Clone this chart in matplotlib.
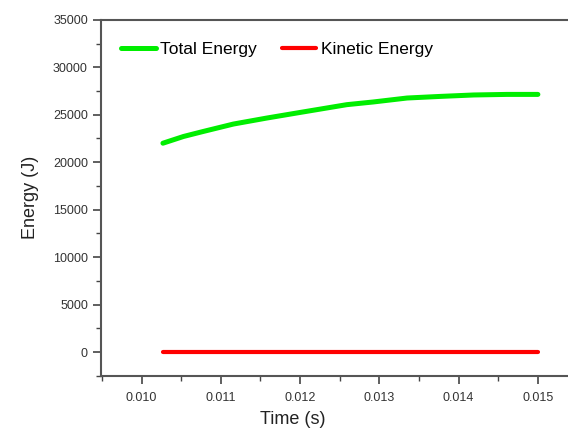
import matplotlib; matplotlib.use("Agg")
import matplotlib.pyplot as plt
from matplotlib.ticker import MultipleLocator, FormatStrFormatter

# data
time_s = [0.01027, 0.01053, 0.01078, 0.01116, 0.01158, 0.01200, 0.01259, 0.01292,
          0.01335, 0.01377, 0.01419, 0.01461, 0.01500]
total_energy = [22000, 22710, 23240, 24020, 24650, 25240, 26060, 26340,
                26760, 26930, 27080, 27140, 27140]
kinetic_time = [0.01027, 0.01500]
kinetic_energy = [0, 0]

plt.rcParams["font.family"] = ["Liberation Sans", "DejaVu Sans"]
fig = plt.figure(figsize=(5.68, 4.3), dpi=100)
ax = fig.add_axes([0.178, 0.126, 0.822, 0.828])
ax.plot(time_s, total_energy, color="#00ee00", lw=3.6, solid_capstyle="round", label="Total Energy")
ax.plot(kinetic_time, kinetic_energy, color="#ff0000", lw=3.0, solid_capstyle="round", label="Kinetic Energy")

ax.set_xlim(0.00949, 0.01538); ax.set_ylim(-2500, 35000)
ax.xaxis.set_major_locator(MultipleLocator(0.001)); ax.xaxis.set_minor_locator(MultipleLocator(0.0005))
ax.yaxis.set_major_locator(MultipleLocator(5000)); ax.yaxis.set_minor_locator(MultipleLocator(2500))
ax.xaxis.set_major_formatter(FormatStrFormatter("%.3f"))
ax.tick_params(which="major", direction="out", length=6, width=1.2, color="#444", labelsize=9, labelcolor="#333")
ax.tick_params(which="minor", direction="out", length=3.5, width=1.0, color="#444")
ax.tick_params(axis="x", pad=6)
for s in ("left", "bottom", "top"):
    ax.spines[s].set_color("#555"); ax.spines[s].set_linewidth(1.5)
ax.spines["right"].set_visible(False)

ax.set_ylabel("Energy (J)", fontsize=13, color="#222", labelpad=10)
fig.text(0.516, 0.005, "Time (s)", fontsize=13, color="#222", ha="center", va="bottom")
ax.legend(loc="upper left", ncol=2, frameon=False, fontsize=12.5, handlelength=2.0, handletextpad=0.25,
          columnspacing=1.4, bbox_to_anchor=(0.01, 0.982))
fig.savefig("out.png", dpi=100)
